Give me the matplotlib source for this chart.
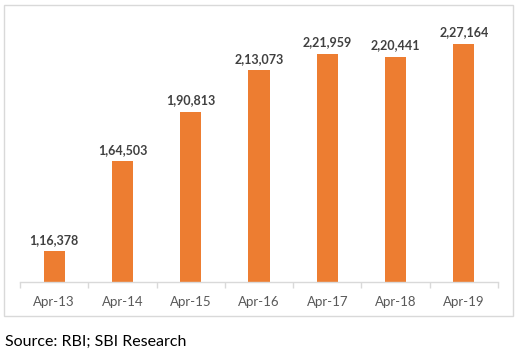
import matplotlib
matplotlib.use("Agg")
import matplotlib.pyplot as plt
from matplotlib.patches import Rectangle
import numpy as np

# Data
categories = ["Apr-13", "Apr-14", "Apr-15", "Apr-16", "Apr-17", "Apr-18", "Apr-19"]
values = [116378, 164503, 190813, 213073, 221959, 220441, 227164]
source_text = "Source: RBI; SBI Research"

ORANGE = "#ED7D31"
GRID = "#D9D9D9"
LABEL = "#404040"
TICK = "#595959"

plt.rcParams["font.family"] = ["Lato", "DejaVu Sans"]


def indian_format(n):
    s = str(int(n))
    if len(s) <= 3:
        return s
    head, tail = s[:-3], s[-3:]
    parts = []
    while len(head) > 2:
        parts.insert(0, head[-2:])
        head = head[:-2]
    if head:
        parts.insert(0, head)
    return ",".join(parts) + "," + tail


W, H = 531, 364
fig = plt.figure(figsize=(W / 100, H / 100), dpi=100)

# outer chart border
fig.patches.append(Rectangle((4 / W, 1 - 316 / H), 509 / W, 311 / H,
                             transform=fig.transFigure, fill=False,
                             edgecolor=GRID, linewidth=1.0))

ax = fig.add_axes([20 / W, 1 - 282 / H, 478 / W, 262 / H])
x = np.arange(len(categories))
bars = ax.bar(x, values, width=0.31, color=ORANGE, zorder=2)

ax.set_xlim(-0.5, len(categories) - 0.5)
ax.set_ylim(100000, 240000)

for b, v in zip(bars, values):
    ax.annotate(indian_format(v), (b.get_x() + b.get_width() / 2, v),
                xytext=(0, 4), textcoords="offset points",
                ha="center", va="bottom", fontsize=9,
                fontweight="bold", color=LABEL)

for s in ["top", "right", "left"]:
    ax.spines[s].set_visible(False)
ax.spines["bottom"].set_color(GRID)
ax.spines["bottom"].set_linewidth(1.0)
ax.set_yticks([])

ax.set_xticks(x)
ax.set_xticklabels(categories, fontsize=9.5, color=TICK)
ax.tick_params(axis="x", which="major", length=0, pad=10)
ax.set_xticks(np.arange(-0.5, len(categories)), minor=True)
ax.tick_params(axis="x", which="minor", length=4, color=GRID, width=1.0)

fig.text(5 / W, 1 - 342 / H, source_text, ha="left", va="center",
         fontsize=11.5, color="#000000")

fig.savefig("out.png", dpi=100)
